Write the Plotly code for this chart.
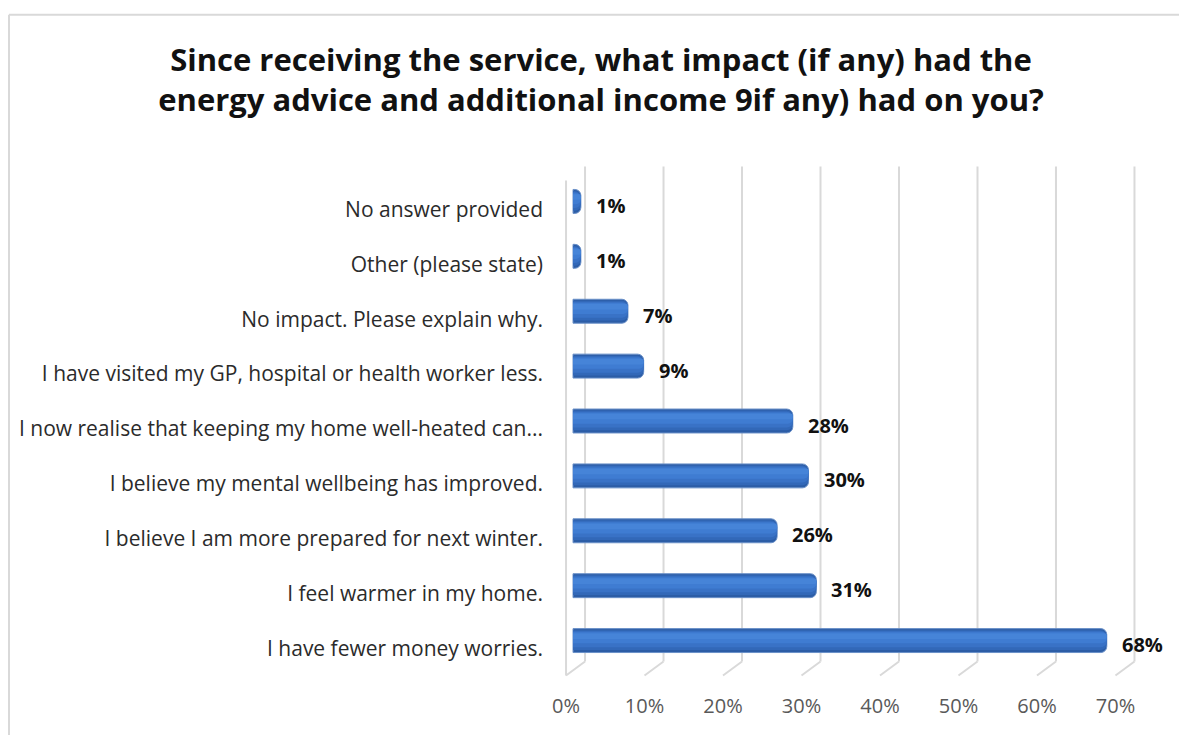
import plotly.graph_objects as go

# Survey responses, listed bottom to top as drawn
categories = [
    "I have fewer money worries.",
    "I feel warmer in my home.",
    "I believe I am more prepared for next winter.",
    "I believe my mental wellbeing has improved.",
    "I now realise that keeping my home well-heated can...",
    "I have visited my GP, hospital or health worker less.",
    "No impact. Please explain why.",
    "Other (please state)",
    "No answer provided",
]
shares = [0.68, 0.31, 0.26, 0.30, 0.28, 0.09, 0.07, 0.01, 0.01]
tick_values = [0.0, 0.1, 0.2, 0.3, 0.4, 0.5, 0.6, 0.7]
tick_labels = ["0%", "10%", "20%", "30%", "40%", "50%", "60%", "70%"]

title_text = ("Since receiving the service, what impact (if any) had the<br>"
              "energy advice and additional income 9if any) had on you?")

W, H = 1179, 735
FONT = "Open Sans"
ML, MR, MT, MB = 560, 34, 162.5, 55.5
X_RANGE = [-0.0166, 0.7287]
Y_RANGE = [-0.70, 8.70]
plot_w = W - ML - MR
plot_h = H - MT - MB


def paper_x(px):
    return (px - ML) / plot_w


def paper_y(py):
    return (H - MB - py) / plot_h


idx = list(range(len(categories)))
fig = go.Figure()

# Layered bands give the bars a shaded, cylindrical look
bands = [
    (-0.218, 0.436, "#2C5DA6", dict(color="#6A90C8", width=1)),
    (-0.170, 0.360, "#3268B8", dict(width=0)),
    (-0.120, 0.290, "#3972C6", dict(width=0)),
    (-0.050, 0.200, "#3F7CD2", dict(width=0)),
    (0.030, 0.100, "#4684D8", dict(width=0)),
]
for off, wid, col, line in bands:
    fig.add_trace(go.Bar(
        x=shares, y=idx, orientation="h",
        offset=off, width=wid,
        marker=dict(color=col, line=line, cornerradius=6),
        hoverinfo="skip", showlegend=False,
    ))

# Value labels to the right of each bar
for i, v in zip(idx, shares):
    fig.add_annotation(
        x=v, y=i, xref="x", yref="y", text=f"<b>{v:.0%}</b>",
        showarrow=False, xanchor="left", yanchor="middle",
        xshift=13, yshift=-4,
        font=dict(family=FONT, size=20, color="#111111"),
    )

# Perspective gridlines: back wall verticals and floor diagonals
GRID = "#D9D9D9"
BACK, FRONT = 12, -7
for t in tick_values:
    fig.add_shape(type="line", xref="x", yref="y", xsizemode="pixel", xanchor=t,
                  x0=BACK, x1=BACK, y0=-0.382, y1=8.636,
                  line=dict(color=GRID, width=2), layer="below")
    fig.add_shape(type="line", xref="x", yref="y", xsizemode="pixel", xanchor=t,
                  x0=BACK, x1=FRONT, y0=-0.382, y1=-0.636,
                  line=dict(color=GRID, width=2), layer="below")
# Front edge of the side wall
fig.add_shape(type="line", xref="x", yref="y", xsizemode="pixel", xanchor=0,
              x0=FRONT, x1=FRONT, y0=-0.636, y1=8.382,
              line=dict(color=GRID, width=2), layer="below")

# Chart frame
fx, fy = paper_x(9), paper_y(14)
fig.add_shape(type="line", xref="paper", yref="paper",
              x0=fx, x1=paper_x(W + 20), y0=fy, y1=fy,
              line=dict(color="#D9D9D9", width=2))
fig.add_shape(type="line", xref="paper", yref="paper",
              x0=fx, x1=fx, y0=fy, y1=paper_y(H + 20),
              line=dict(color="#D9D9D9", width=2))

fig.update_layout(
    width=W, height=H,
    margin=dict(l=ML, r=MR, t=MT, b=MB, autoexpand=False),
    paper_bgcolor="white", plot_bgcolor="white",
    barmode="overlay",
    title=dict(text=f"<b>{title_text}</b>", x=601 / W, xref="container",
               xanchor="center", y=1 - 71 / H, yref="container", yanchor="middle",
               font=dict(family=FONT, size=31, color="#111111")),
    xaxis=dict(range=X_RANGE, tickvals=tick_values, ticktext=tick_labels,
               showgrid=False, zeroline=False, showline=False, ticks="",
               ticklabelshift=-7, ticklabelstandoff=13,
               tickfont=dict(family=FONT, size=20, color="#595959")),
    yaxis=dict(range=Y_RANGE, tickvals=idx, ticktext=categories,
               showgrid=False, zeroline=False, showline=False, ticks="",
               ticklabelstandoff=16, ticklabelshift=8,
               tickfont=dict(family=FONT, size=21, color="#2B2B2B")),
)

fig.write_html("out.html")
